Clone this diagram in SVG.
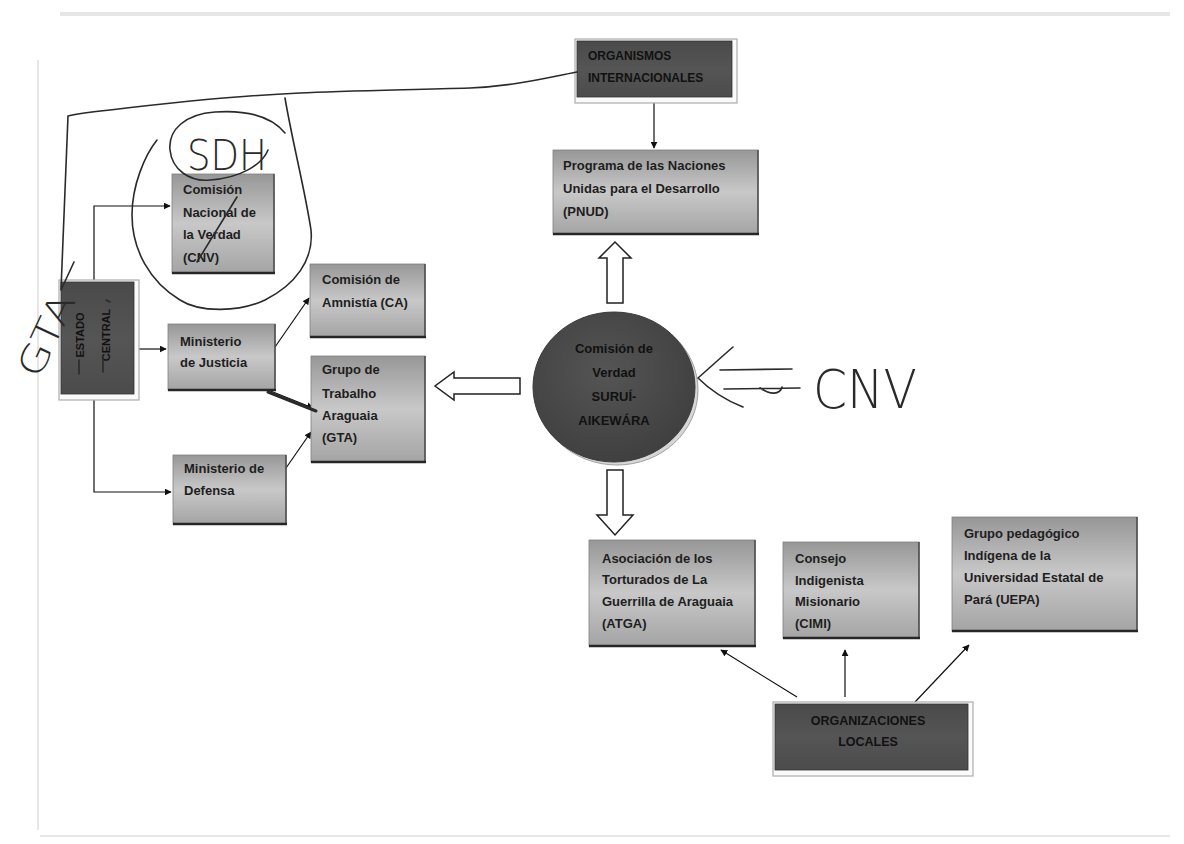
<svg xmlns="http://www.w3.org/2000/svg" width="1184" height="844" viewBox="0 0 1184 844">
<defs>
  <linearGradient id="g" x1="0" y1="0" x2="0" y2="1">
    <stop offset="0" stop-color="#979797"/>
    <stop offset="0.5" stop-color="#c8c8c8"/>
    <stop offset="1" stop-color="#a4a4a4"/>
  </linearGradient>
  <linearGradient id="gd" x1="0" y1="0" x2="0" y2="1">
    <stop offset="0" stop-color="#4a4a4a"/>
    <stop offset="0.5" stop-color="#555555"/>
    <stop offset="1" stop-color="#4c4c4c"/>
  </linearGradient>
  <radialGradient id="gc" cx="0.45" cy="0.4" r="0.6">
    <stop offset="0" stop-color="#555555"/>
    <stop offset="1" stop-color="#404040"/>
  </radialGradient>
  <marker id="ah" viewBox="0 0 10 10" refX="9" refY="5" markerWidth="7" markerHeight="7" markerUnits="userSpaceOnUse" orient="auto">
    <path d="M0,0 L10,5 L0,10 Z" fill="#111"/>
  </marker>
</defs>
<style>
  .t{font-family:"Liberation Sans",Arial,sans-serif;font-weight:bold;font-size:13px;fill:#1e1e1e}
  .td{font-family:"Liberation Sans",Arial,sans-serif;font-weight:bold;font-size:12px;fill:#111}
  .box{fill:url(#g);stroke:#808080;stroke-width:0.8}
  .bb{stroke:#262626;stroke-width:2.5}
  .br{stroke:#4a4a4a;stroke-width:1.5}
  .dark{fill:url(#gd);stroke:#333;stroke-width:0.8}
  .frame{fill:#fafafa;stroke:#acacac;stroke-width:1.2}
  .c{stroke:#111;stroke-width:1.2;fill:none;marker-end:url(#ah)}
  .hollow{fill:#fff;stroke:#222;stroke-width:1.5;stroke-linejoin:miter}
  .pen{fill:none;stroke:#2a2a2a;stroke-width:1.6;stroke-linecap:round;stroke-linejoin:round}
  .hw{font-family:"DejaVu Sans",sans-serif;font-weight:200;fill:#2a2a2a}
  .scan{stroke:#e6e6e6;fill:none}
</style>
<rect width="1184" height="844" fill="#ffffff"/>
<g id="scan">
  <line class="scan" x1="60" y1="14" x2="1170" y2="14" stroke-width="4"/>
  <line class="scan" x1="38" y1="60" x2="38" y2="830" stroke-width="2"/>
  <line class="scan" x1="40" y1="836" x2="1170" y2="836" stroke-width="2"/>
</g>

<g id="connectors">
  <path class="c" d="M654,98 L654,148"/>
  <path class="c" d="M94,282 L94,206 L170,206"/>
  <path class="c" d="M135,349 L166,349"/>
  <path class="c" d="M94,400 L94,492 L171,492"/>
  <path class="c" d="M275,347 L309,298"/>
  <path class="c" d="M268,390 L313,408"/>
  <path class="c" d="M286,468 L311,432"/>
  <path class="c" d="M797,697 L721,650"/>
  <path class="c" d="M845,697 L845,650"/>
  <path class="c" d="M915,702 L969,645"/>
  <polygon class="hollow" points="607,303 607,258 599,258 615,242 631,258 623,258 623,303"/>
  <polygon class="hollow" points="520,378 454,378 454,372 435,386 454,400 454,394 520,394"/>
  <polygon class="hollow" points="607,470 607,515 597,515 615,535 633,515 623,515 623,470"/>
</g>

<g id="org-internacionales">
  <rect class="frame" x="575" y="39" width="162" height="64"/>
  <rect class="dark" x="577" y="41" width="155" height="56"/>
  <text class="td" x="588" y="60">ORGANISMOS</text>
  <text class="td" x="588" y="82">INTERNACIONALES</text>
</g>

<g id="pnud">
  <rect class="box" x="553" y="150" width="205" height="84"/>
  <line class="br" x1="758" y1="150" x2="758" y2="234"/>
  <line class="bb" x1="553" y1="234" x2="759" y2="234"/>
  <text class="t" x="563" y="170">Programa de las Naciones</text>
  <text class="t" x="563" y="193">Unidas para el Desarrollo</text>
  <text class="t" x="563" y="216">(PNUD)</text>
</g>

<g id="comision-surui">
  <ellipse cx="617" cy="390" rx="81" ry="75" fill="#d6d6d6" stroke="#a0a0a0" stroke-width="1"/>
  <ellipse cx="614" cy="387" rx="81" ry="75" fill="url(#gc)" stroke="#3a3a3a" stroke-width="1"/>
  <text class="t" x="614" y="353" text-anchor="middle" style="fill:#111">Comisión de</text>
  <text class="t" x="614" y="377" text-anchor="middle" style="fill:#111">Verdad</text>
  <text class="t" x="614" y="401" text-anchor="middle" style="fill:#111">SURUÍ-</text>
  <text class="t" x="614" y="425" text-anchor="middle" style="fill:#111">AIKEWÁRA</text>
</g>

<g id="estado-central">
  <rect class="frame" x="59" y="280" width="80" height="120"/>
  <rect class="dark" x="61" y="282" width="73" height="112"/>
  <text class="td" style="font-size:11px" transform="translate(84,335) rotate(-90)" text-anchor="middle">ESTADO</text>
  <text class="td" style="font-size:11px" transform="translate(110,335) rotate(-90)" text-anchor="middle">CENTRAL</text>
</g>

<g id="cnv">
  <rect class="box" x="172" y="174" width="102" height="99"/>
  <line class="br" x1="274" y1="174" x2="274" y2="273"/>
  <line class="bb" x1="172" y1="273" x2="275" y2="273"/>
  <text class="t" x="183" y="194">Comisión</text>
  <text class="t" x="183" y="217">Nacional de</text>
  <text class="t" x="183" y="239">la Verdad</text>
  <text class="t" x="183" y="262">(CNV)</text>
</g>

<g id="justicia">
  <rect class="box" x="168" y="324" width="107" height="66"/>
  <line class="br" x1="275" y1="324" x2="275" y2="390"/>
  <line class="bb" x1="168" y1="390" x2="276" y2="390"/>
  <text class="t" x="180" y="346">Ministerio</text>
  <text class="t" x="180" y="367">de Justicia</text>
</g>

<g id="defensa">
  <rect class="box" x="173" y="455" width="113" height="69"/>
  <line class="br" x1="286" y1="455" x2="286" y2="524"/>
  <line class="bb" x1="173" y1="524" x2="287" y2="524"/>
  <text class="t" x="184" y="473">Ministerio de</text>
  <text class="t" x="184" y="495">Defensa</text>
</g>

<g id="amnistia">
  <rect class="box" x="310" y="264" width="115" height="73"/>
  <line class="br" x1="425" y1="264" x2="425" y2="337"/>
  <line class="bb" x1="310" y1="337" x2="426" y2="337"/>
  <text class="t" x="322" y="284">Comisión de</text>
  <text class="t" x="322" y="307">Amnistía (CA)</text>
</g>

<g id="gta">
  <rect class="box" x="311" y="356" width="114" height="106"/>
  <line class="br" x1="425" y1="356" x2="425" y2="462"/>
  <line class="bb" x1="311" y1="462" x2="426" y2="462"/>
  <text class="t" x="322" y="374">Grupo de</text>
  <text class="t" x="322" y="398">Trabalho</text>
  <text class="t" x="322" y="420">Araguaia</text>
  <text class="t" x="322" y="442">(GTA)</text>
</g>

<g id="atga">
  <rect class="box" x="589" y="540" width="166" height="106"/>
  <line class="br" x1="755" y1="540" x2="755" y2="646"/>
  <line class="bb" x1="589" y1="646" x2="756" y2="646"/>
  <text class="t" x="602" y="563">Asociación de los</text>
  <text class="t" x="602" y="584">Torturados de La</text>
  <text class="t" x="602" y="606">Guerrilla de Araguaia</text>
  <text class="t" x="602" y="628">(ATGA)</text>
</g>

<g id="cimi">
  <rect class="box" x="783" y="542" width="136" height="96"/>
  <line class="br" x1="919" y1="542" x2="919" y2="638"/>
  <line class="bb" x1="783" y1="638" x2="920" y2="638"/>
  <text class="t" x="795" y="563">Consejo</text>
  <text class="t" x="795" y="585">Indigenista</text>
  <text class="t" x="795" y="606">Misionario</text>
  <text class="t" x="795" y="628">(CIMI)</text>
</g>

<g id="uepa">
  <rect class="box" x="952" y="517" width="185" height="114"/>
  <line class="br" x1="1137" y1="517" x2="1137" y2="631"/>
  <line class="bb" x1="952" y1="631" x2="1138" y2="631"/>
  <text class="t" x="964" y="538">Grupo pedagógico</text>
  <text class="t" x="964" y="560">Indígena de la</text>
  <text class="t" x="964" y="582">Universidad Estatal de</text>
  <text class="t" x="964" y="604">Pará (UEPA)</text>
</g>

<g id="org-locales">
  <rect class="frame" x="773" y="702" width="200" height="74"/>
  <rect class="dark" x="775" y="704" width="193" height="66"/>
  <text class="td" x="868" y="725" text-anchor="middle" style="font-size:12.5px">ORGANIZACIONES</text>
  <text class="td" x="868" y="746" text-anchor="middle" style="font-size:12.5px">LOCALES</text>
</g>

<g id="handwriting">
  <path class="pen" d="M577,72 C545,78 515,86 470,88 C400,90 340,91 300,93 C230,96 160,104 110,110 C90,112 76,114 68,116 C67,150 64,220 61,290 L74,262"/>
  <path class="pen" d="M285,133 C270,115 245,110 215,112 C185,114 168,130 170,150 C172,170 190,182 210,180 C240,178 262,165 268,150"/>
  <path class="pen" d="M285,98 C292,140 305,190 311,230 C314,260 295,285 265,300 C240,312 200,313 180,300 C150,282 132,250 132,215 C132,185 145,155 157,140"/>
  <path class="pen" d="M237,197 L197,262"/>
  <path class="pen" d="M79,360 L79,374 M103,358 L103,372 M106,300 L110,302"/>
  <path class="pen" style="stroke-width:3" d="M268,392 L316,411"/>
  <path class="pen" d="M733,347 C718,360 705,372 698,378 C708,388 725,400 743,407 M720,370 L792,369 M724,389 L800,388 M760,388 C770,395 780,395 782,387"/>
  <text class="hw" x="187" y="170" font-size="42" textLength="80" lengthAdjust="spacingAndGlyphs">SDH</text>
  <text class="hw" x="813" y="408" font-size="54" textLength="104" lengthAdjust="spacingAndGlyphs">CNV</text>
  <text class="hw" font-size="36" textLength="88" lengthAdjust="spacingAndGlyphs" transform="translate(39,380) rotate(-65)">GTA</text>
</g>
</svg>
